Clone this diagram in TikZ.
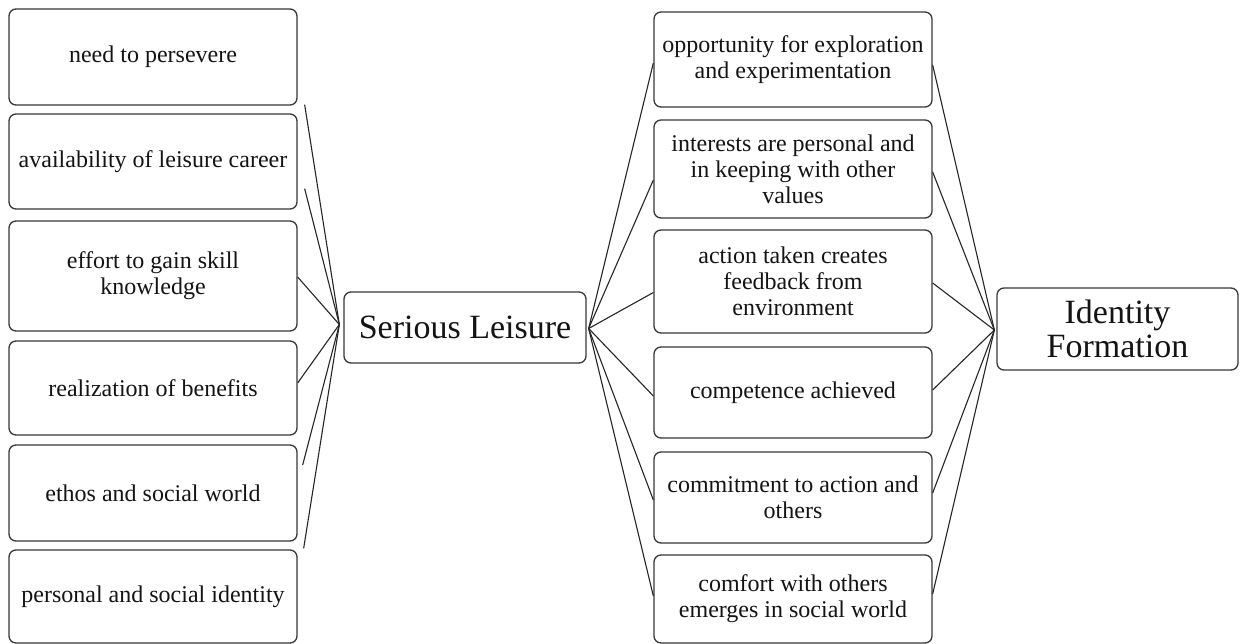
\documentclass[tikz,border=0pt]{standalone}
\usepackage{fontspec}
\setmainfont{Liberation Serif}
\usetikzlibrary{calc}
\begin{document}
\begin{tikzpicture}[x=1pt,y=-1pt,
  card/.style={draw=black!78, line width=1.3pt, rounded corners=7pt, fill=white,
    align=center, inner sep=0pt, text=black!92,
    font=\fontsize{24}{26}\selectfont},
  leftcard/.style={card, minimum width=288pt},
  rightcard/.style={card, minimum width=278pt},
  bigcard/.style={card, minimum width=242pt, font=\fontsize{34}{34.5}\selectfont},
  link/.style={draw=black!85, line width=1.1pt}]
\useasboundingbox[fill=white] (0,0) rectangle (1241,644);

% left column: aspects of serious leisure
\node[leftcard, minimum height=96pt] (l1) at (153,57)    {need to persevere};
\node[leftcard, minimum height=95pt] (l2) at (153,161.5) {availability of leisure career};
\node[leftcard, minimum height=110pt] (l3) at (153,276)  {effort to gain skill\\knowledge};
\node[leftcard, minimum height=94pt] (l4) at (153,388)   {realization of benefits};
\node[leftcard, minimum height=96pt] (l5) at (153,493)   {ethos and social world};
\node[leftcard, minimum height=93pt] (l6) at (153,596.5) {personal and social identity};

% central concept
\node[bigcard, minimum height=71pt] (sl) at (465,327.5) {Serious Leisure};

% right column: conditions for identity formation
\node[rightcard, minimum height=95pt] (r1) at (793,59.5)  {opportunity for exploration\\and experimentation};
\node[rightcard, minimum height=98pt] (r2) at (793,169)   {interests are personal and\\in keeping with other\\values};
\node[rightcard, minimum height=103pt] (r3) at (793,281.5) {action taken creates\\feedback from\\environment};
\node[rightcard, minimum height=91pt] (r4) at (793,392.5) {competence achieved};
\node[rightcard, minimum height=91pt] (r5) at (793,497.5) {commitment to action and\\others};
\node[rightcard, minimum height=88pt] (r6) at (793,599)   {comfort with others\\emerges in social world};

% outcome
\node[bigcard, minimum width=241pt, minimum height=82pt] (idf) at (1117.5,329) {Identity\\Formation};

% meeting points of the connectors
\coordinate (slin)  at ($(sl.west)+(-4,-3)$);
\coordinate (slout) at ($(sl.east)+(2,1)$);
\coordinate (idin)  at ($(idf.west)+(-2,1)$);

% left column to Serious Leisure
\draw[link] ($(l1.south east)+(7,-1)$) -- (slin);
\draw[link] ($(l2.south east)+(7,-21)$) -- (slin);
\draw[link] ($(l3.east)+(0,1)$) -- (slin);
\draw[link] ($(l4.east)+(0,-5)$) -- (slin);
\draw[link] ($(l5.east)+(5,-28)$) -- (slin);
\draw[link] ($(l6.north east)+(6,-1)$) -- (slin);

% Serious Leisure to right column
\draw[link] (slout) -- ($(r1.west)+(0,3.5)$);
\draw[link] (slout) -- ($(r2.west)+(0,11)$);
\draw[link] (slout) -- ($(r3.west)+(0,11)$);
\draw[link] (slout) -- ($(r4.west)+(0,3.5)$);
\draw[link] (slout) -- ($(r5.west)+(0,2.5)$);
\draw[link] (slout) -- ($(r6.west)+(0,-3)$);

% right column to Identity Formation
\draw[link] ($(r1.east)+(0,5.5)$) -- (idin);
\draw[link] ($(r2.east)+(0,3)$) -- (idin);
\draw[link] ($(r3.east)+(0,1.5)$) -- (idin);
\draw[link] ($(r4.east)+(0,-2.5)$) -- (idin);
\draw[link] ($(r5.east)+(0,-4.5)$) -- (idin);
\draw[link] ($(r6.east)+(0,-5)$) -- (idin);
\end{tikzpicture}
\end{document}
